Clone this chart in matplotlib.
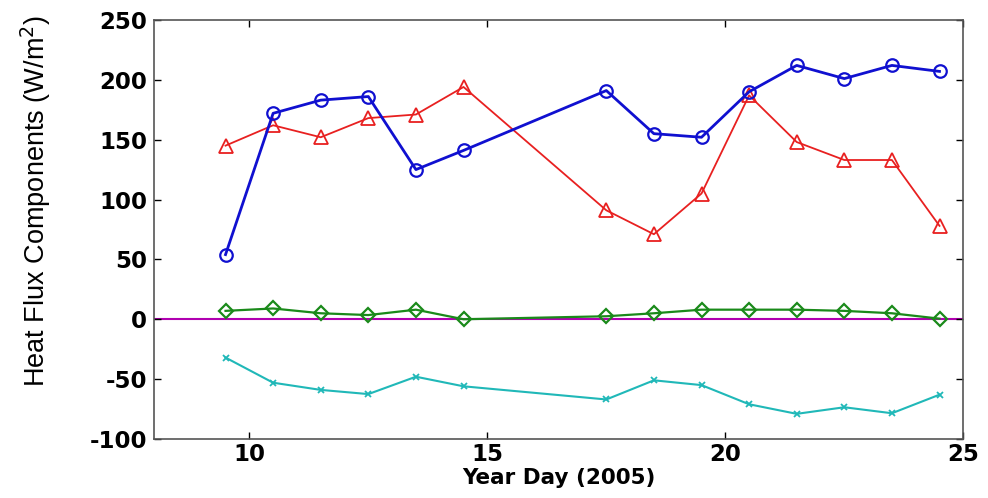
import numpy as np
import matplotlib
matplotlib.use('Agg')
import matplotlib.pyplot as plt

plt.rcParams['axes.unicode_minus'] = False

# year day of each measurement
days = [9.5, 10.5, 11.5, 12.5, 13.5, 14.5, 17.5, 18.5, 19.5, 20.5, 21.5, 22.5, 23.5, 24.5]

# heat flux components (W/m^2)
blue_vals = [54, 172, 183, 186, 125, 141, 191, 155, 152, 190, 212, 201, 212, 207]
red_vals = [145, 162, 152, 168, 171, 194, 91, 71, 105, 187, 148, 133, 133, 78]
green_vals = [7, 9, 5, 3.5, 8, 0, 2.5, 5, 8, 8, 8, 7, 5, 0.5]
cyan_vals = [-32, -53, -59, -62.5, -48, -56, -67, -51, -55, -71, -79, -73.5, -78.5, -63]

xticks = [10, 15, 20, 25]
yticks = [-100, -50, 0, 50, 100, 150, 200, 250]

fig = plt.figure(figsize=(9.88, 4.98), dpi=100)
ax = fig.add_axes([0.156, 0.1185, 0.819, 0.8415])

ax.axhline(0, color='#b000b0', lw=1.5, zorder=1)
ax.plot(days, red_vals, color='#e82020', lw=1.3, marker='^', ms=10,
        mfc='none', mew=1.3)
ax.plot(days, blue_vals, color='#1010d0', lw=2.0, marker='o', ms=9,
        mfc='none', mew=1.6)
ax.plot(days, green_vals, color='#1a8a1a', lw=1.6, marker='D', ms=7,
        mfc='none', mew=1.6)
ax.plot(days, cyan_vals, color='#20b8b8', lw=1.5, marker='x', ms=4, mew=1.3)

ax.set_xlim(8, 25)
ax.set_ylim(-100, 250)
ax.set_xticks(xticks)
ax.set_yticks(yticks)
ax.tick_params(direction='in', top=True, right=True, length=5, width=1,
               labelsize=16.5, pad=5)
ax.tick_params(axis='x', pad=3)
for lab in ax.get_xticklabels() + ax.get_yticklabels():
    lab.set_fontweight('bold')
for sp in ax.spines.values():
    sp.set_color('#555555')
    sp.set_linewidth(1.2)

ax.set_xlabel('Year Day (2005)', fontsize=15.5, fontweight='bold', labelpad=1)
ax.set_ylabel('Heat Flux Components (W/m$^2$)', fontsize=19.5,
              family='Liberation Sans')
ax.yaxis.set_label_coords(-0.125, 0.567)

fig.savefig('out.png', dpi=100)
